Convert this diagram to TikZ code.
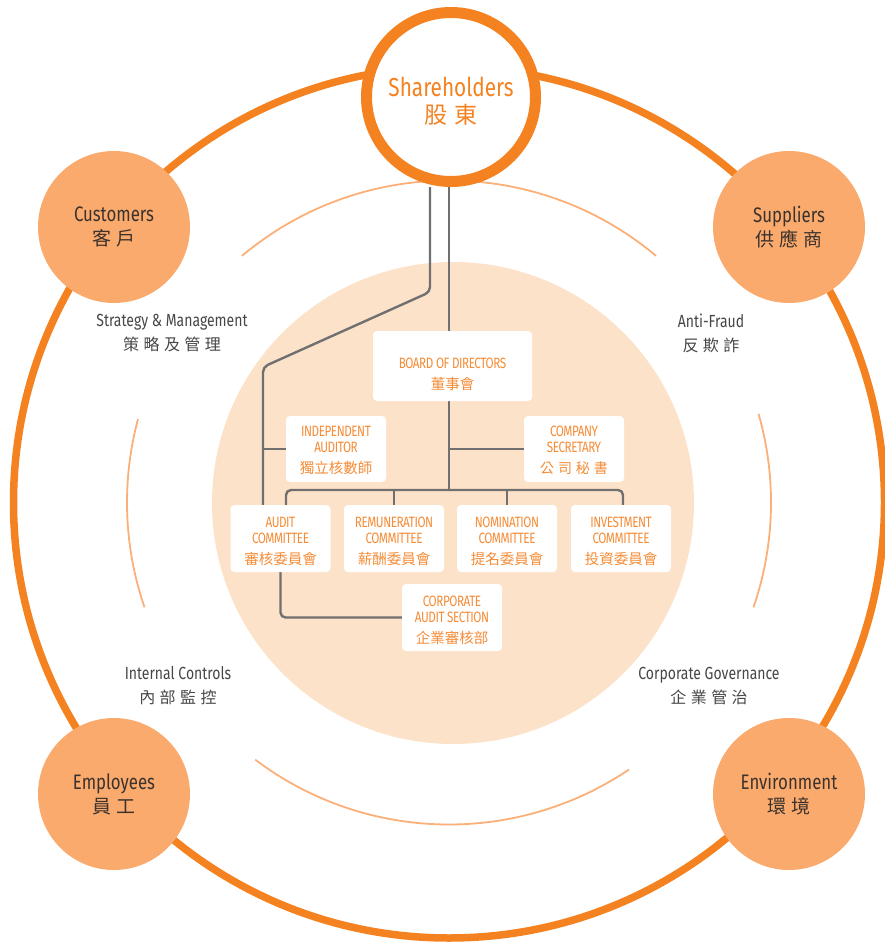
\documentclass[tikz,border=0pt]{standalone}
\usepackage{fontspec}
\setmainfont{Fira Sans}[FakeStretch=0.8]
\newfontfamily\boxfont{Fira Sans}[FakeStretch=0.78,LetterSpace=-3]
\newfontfamily\cjk{Noto Sans CJK TC}
\newfontfamily\cjksp{Noto Sans CJK TC}[LetterSpace=28]
\usetikzlibrary{backgrounds}

\definecolor{ringorange}{RGB}{245,130,32}
\definecolor{softorange}{RGB}{249,170,108}
\definecolor{arcorange}{RGB}{250,176,120}
\definecolor{peach}{RGB}{253,226,202}
\definecolor{boxtext}{RGB}{245,140,55}
\definecolor{linkgray}{RGB}{112,112,112}
\definecolor{labelgray}{RGB}{70,70,70}
\definecolor{darktext}{RGB}{60,50,45}

\newcommand{\boxcjk}[1]{{\cjk\fontsize{14.5}{16}\selectfont #1}}
\newcommand{\lift}[1]{\rule{0pt}{#1}}

\tikzset{
  party/.style={circle, fill=softorange, minimum size=152pt, inner sep=0pt,
    align=center, text=darktext, font=\fontsize{21}{24}\selectfont},
  orgbox/.style={rectangle, rounded corners=4pt, fill=white, minimum width=100pt,
    minimum height=67pt, inner sep=1pt, align=center, text=boxtext,
    font=\boxfont\fontsize{15}{16}\selectfont},
  theme/.style={align=center, text=labelgray, font=\fontsize{17.5}{24}\selectfont},
  link/.style={draw=linkgray, line width=2.4pt, rounded corners=5pt},
  softarc/.style={draw=arcorange, line width=1.8pt},
}

\begin{document}
\begin{tikzpicture}[x=1pt, y=-1pt]
  \useasboundingbox (0,0) rectangle (885,944);

  % Outer ring, thin arcs and centre disk
  \begin{scope}[on background layer]
    \draw[ringorange, line width=7.5pt] (449,502.5) circle (435.5);
    \draw[softarc] (449,502.5) ++(-50:322) arc[start angle=-50, end angle=-130, radius=322];
    \draw[softarc] (449,502.5) ++(-165:322) arc[start angle=-165, end angle=-199, radius=322];
    \draw[softarc] (449,502.5) ++(-233:322) arc[start angle=-233, end angle=-304, radius=322];
    \draw[softarc] (449,502.5) ++(19:322) arc[start angle=19, end angle=-16, radius=322];
    \fill[peach] (453,503) circle (241);
  \end{scope}

  % Shareholders
  \node[circle, draw=ringorange, line width=11pt, fill=white, minimum size=169pt,
    inner sep=0pt, align=center, text=ringorange, font=\fontsize{26}{27}\selectfont]
    (share) at (451,97) {\lift{27pt}Shareholders\\{\cjksp\fontsize{23}{26}\selectfont 股東}};

  % Stakeholders on the ring
  \node[party] (cust) at (114,227) {Customers\\{\cjksp\fontsize{19}{24}\selectfont 客戶}};
  \node[party] (supp) at (789,227) {Suppliers\\{\cjksp\fontsize{19}{24}\selectfont 供應商}};
  \node[party] (empl) at (114,794) {Employees\\{\cjksp\fontsize{19}{24}\selectfont 員工}};
  \node[party] (envi) at (789,794) {Environment\\{\cjksp\fontsize{19}{24}\selectfont 環境}};

  % Themes
  \node[theme] (strat) at (172,333) {Strategy \& Management\\{\cjksp\fontsize{16}{24}\selectfont 策略及管理}};
  \node[theme] (fraud) at (711,333) {Anti-Fraud\\{\cjksp\fontsize{16}{24}\selectfont 反欺詐}};
  \node[theme] (ctrl) at (178,686) {Internal Controls\\{\cjksp\fontsize{16}{24}\selectfont 內部監控}};
  \node[theme] (gov) at (709,686) {Corporate Governance\\{\cjksp\fontsize{16}{24}\selectfont 企業管治}};

  % Organisation chart
  \node[orgbox, minimum width=159pt, minimum height=70pt] (board) at (452.5,366)
    {\lift{28pt}BOARD OF DIRECTORS\\[5pt]\boxcjk{董事會}};
  \node[orgbox, minimum height=66pt] (indep) at (336,449)
    {\lift{14pt}INDEPENDENT\\AUDITOR\\[5pt]\boxcjk{獨立核數師}};
  \node[orgbox, minimum height=66pt] (secr) at (574,449)
    {\lift{14pt}COMPANY\\SECRETARY\\[5pt]{\cjksp\fontsize{14}{16}\selectfont 公司秘書}};
  \node[orgbox] (audit) at (280.5,538.5)
    {\lift{16pt}AUDIT\\COMMITTEE\\[5pt]\boxcjk{審核委員會}};
  \node[orgbox] (remu) at (394,538.5)
    {\lift{16pt}REMUNERATION\\COMMITTEE\\[5pt]\boxcjk{薪酬委員會}};
  \node[orgbox] (nomi) at (507,538.5)
    {\lift{16pt}NOMINATION\\COMMITTEE\\[5pt]\boxcjk{提名委員會}};
  \node[orgbox] (inve) at (621,538.5)
    {\lift{16pt}INVESTMENT\\COMMITTEE\\[5pt]\boxcjk{投資委員會}};
  \node[orgbox] (corp) at (452,617.5)
    {\lift{16pt}CORPORATE\\AUDIT SECTION\\[5pt]\boxcjk{企業審核部}};

  % Reporting lines
  \coordinate (trunk) at (449,0);
  \coordinate (bendtop) at (430,292);
  \coordinate (bendlow) at (263,367);
  \coordinate (busy) at (0,490);
  \coordinate (busL) at (286,490);
  \coordinate (busR) at (623,490);
  \begin{scope}[on background layer]
    \draw[link] (bendtop |- share.south) -- (bendtop) -- (bendlow) -- (bendlow |- audit.north);
    \draw[link] (trunk |- share.south) -- (trunk |- board.north);
    \draw[link] (trunk |- board.south) -- (trunk |- busy);
    \draw[link] (bendlow |- indep.west) -- (indep.west);
    \draw[link] (trunk |- secr.west) -- (secr.west);
    \draw[link] (busL |- audit.north) -- (busL) -- (busR) -- (busR |- inve.north);
    \draw[link] (remu.north |- busy) -- (remu.north);
    \draw[link] (nomi.north |- busy) -- (nomi.north);
    \draw[link] (audit.south) |- (corp.west);
  \end{scope}
\end{tikzpicture}
\end{document}
